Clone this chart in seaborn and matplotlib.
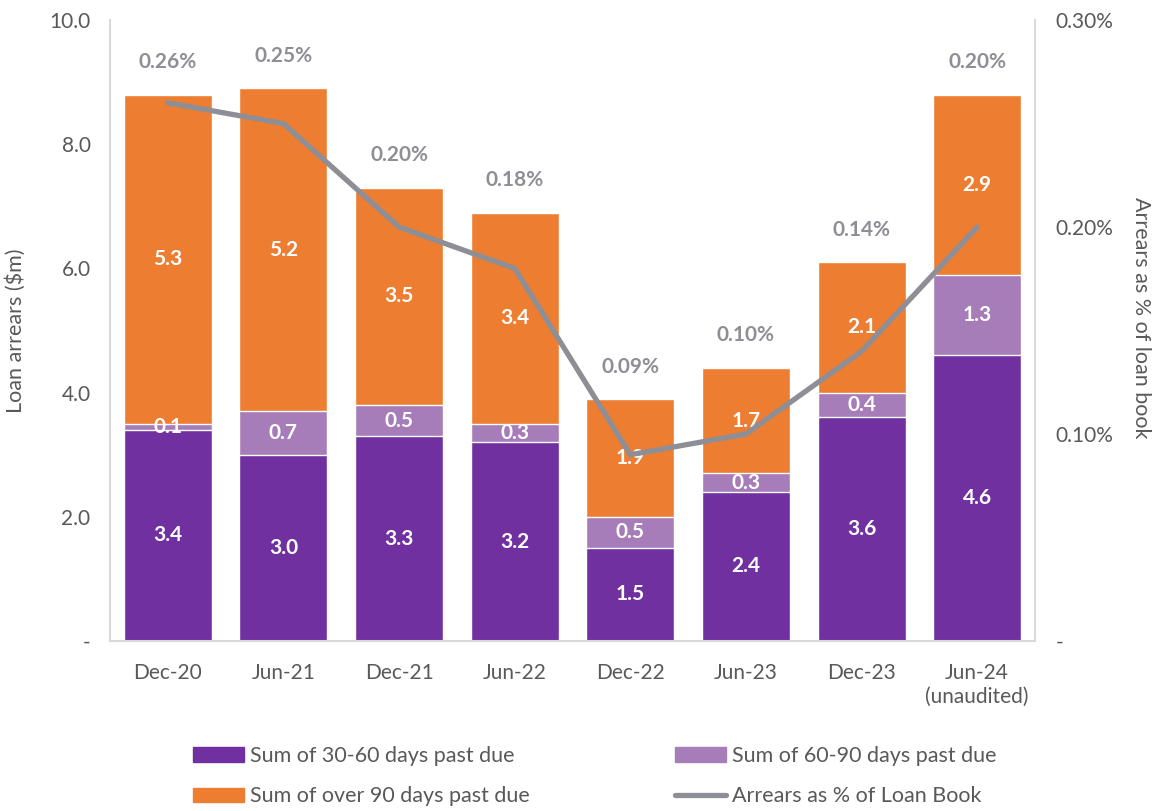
import matplotlib
matplotlib.use("Agg")
import numpy as np
import pandas as pd
import matplotlib.pyplot as plt
import seaborn as sns
from matplotlib.patches import Patch
from matplotlib.lines import Line2D

# chart data
periods = ["Dec-20", "Jun-21", "Dec-21", "Jun-22", "Dec-22", "Jun-23", "Dec-23", "Jun-24\n(unaudited)"]
days_30_60 = [3.4, 3.0, 3.3, 3.2, 1.5, 2.4, 3.6, 4.6]
days_60_90 = [0.1, 0.7, 0.5, 0.3, 0.5, 0.3, 0.4, 1.3]
days_over_90 = [5.3, 5.2, 3.5, 3.4, 1.9, 1.7, 2.1, 2.9]
arrears_pct = [0.26, 0.25, 0.20, 0.18, 0.09, 0.10, 0.14, 0.20]

PURPLE = "#7030A0"
LILAC = "#A67DB8"
ORANGE = "#ED7D31"
GREY_LINE = "#8E8E96"
TEXT = "#595959"
AXIS = "#D9D9D9"

sns.set_style("white")
plt.rcParams["font.family"] = ["Lato", "DejaVu Sans"]

df = pd.DataFrame({
    "period": periods,
    "d30": days_30_60,
    "d60": days_60_90,
    "d90": days_over_90,
    "pct": arrears_pct,
})
df["lvl2"] = df["d30"] + df["d60"]
df["total"] = df["lvl2"] + df["d90"]

fig = plt.figure(figsize=(11.61, 8.11), dpi=100)
ax = fig.add_axes([0.0947, 0.2096, 0.7968, 0.7657])

# stacked bars drawn as cumulative layers
bw = 0.76
sns.barplot(data=df, x="period", y="total", color=ORANGE, width=bw, saturation=1, ax=ax)
sns.barplot(data=df, x="period", y="lvl2", color=LILAC, width=bw, saturation=1, ax=ax)
sns.barplot(data=df, x="period", y="d30", color=PURPLE, width=bw, saturation=1, ax=ax)

ax.set_ylim(0, 10)
ax.set_xlim(-0.5, len(periods) - 0.5)
ax.set_yticks([0, 2, 4, 6, 8, 10])
ax.set_yticklabels(["-", "2.0", "4.0", "6.0", "8.0", "10.0"])
ax.set_xlabel("")
ax.set_ylabel("Loan arrears ($m)", fontsize=15.5, color=TEXT, labelpad=17)
ax.tick_params(axis="both", length=0, labelsize=15, labelcolor=TEXT)
ax.tick_params(axis="x", pad=16)
ax.tick_params(axis="y", pad=14)

for side in ["left", "right", "bottom"]:
    ax.spines[side].set_color(AXIS)
    ax.spines[side].set_linewidth(1.5)
ax.spines["top"].set_visible(False)

# segment labels
lab = dict(ha="center", va="center", fontsize=15, fontweight="bold")
for i, row in df.iterrows():
    ax.text(i, row["d30"] / 2, f"{row['d30']:.1f}", color="white", **lab)
    ax.text(i, row["d30"] + row["d60"] / 2, f"{row['d60']:.1f}", color="white", **lab)
    ax.text(i, row["lvl2"] + row["d90"] / 2, f"{row['d90']:.1f}", color="white", **lab)
    ax.text(i, row["total"] + 0.52, f"{row['pct']:.2f}%", color=GREY_LINE, **lab)

# arrears % line on secondary axis
ax2 = ax.twinx()
sns.lineplot(x=np.arange(len(periods)), y=df["pct"], color=GREY_LINE, linewidth=3.8, ax=ax2)
ax2.set_ylim(0, 0.30)
ax2.set_yticks([0, 0.10, 0.20, 0.30])
ax2.set_yticklabels(["-", "0.10%", "0.20%", "0.30%"])
ax2.tick_params(axis="y", length=0, labelsize=15, labelcolor=TEXT, pad=15)
ax2.set_ylabel("Arrears as % of loan book", fontsize=15.5, color=TEXT, rotation=270, labelpad=33)
ax2.yaxis.set_label_coords(1.125, 0.52)
for side in ["left", "right", "bottom", "top"]:
    ax2.spines[side].set_visible(False)

handles = [
    Patch(color=PURPLE, label="Sum of 30-60 days past due"),
    Patch(color=ORANGE, label="Sum of over 90 days past due"),
    Patch(color=LILAC, label="Sum of 60-90 days past due"),
    Line2D([0], [0], color=GREY_LINE, linewidth=3.8, solid_capstyle="round", label="Arrears as % of Loan Book"),
]
fig.legend(handles=handles, loc="center", bbox_to_anchor=(0.512, 0.043), ncol=2, frameon=False,
           fontsize=15.5, labelcolor=TEXT, columnspacing=6.75, handlelength=2.4, handleheight=0.65,
           handletextpad=0.25, labelspacing=0.95)

fig.savefig("out.png", dpi=100)
